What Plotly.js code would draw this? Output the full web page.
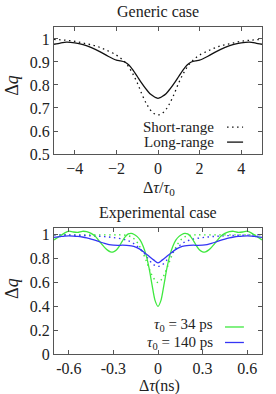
<!DOCTYPE html>
<html><head><meta charset="utf-8">
<script src="https://cdn.plot.ly/plotly-3.0.1.min.js"></script>
<style>html,body{margin:0;padding:0;background:#fff}</style>
</head><body><div id="chart" style="width:276px;height:394px"></div>
<script>
// ---- Generic case (Δτ/τ0) ----
const genShortX = [-5,-4.5,-4,-3.5,-3,-2.5,-2,-1.75,-1.5,-1.25,-1,-0.75,-0.5,-0.25,0,0.25,0.5,0.75,1,1.25,1.5,1.75,2,2.5,3,3.5,4,4.5,5];
const genShortY = [0.998,0.995,0.99,0.98,0.97,0.952,0.93,0.913,0.89,0.855,0.81,0.755,0.71,0.68,0.67,0.68,0.71,0.755,0.81,0.855,0.89,0.913,0.93,0.952,0.97,0.98,0.99,0.995,0.998];
const genLongX = [-5,-4.7,-4.4,-4,-3.6,-3.2,-2.8,-2.4,-2,-1.8,-1.6,-1.4,-1.2,-1,-0.8,-0.6,-0.4,-0.2,-0.1,0,0.1,0.2,0.4,0.6,0.8,1,1.2,1.4,1.6,1.8,2,2.4,2.8,3.2,3.6,4,4.4,4.7,5];
const genLongY = [0.977,0.982,0.986,0.983,0.975,0.962,0.945,0.925,0.908,0.905,0.9,0.887,0.865,0.838,0.81,0.785,0.763,0.75,0.745,0.742,0.745,0.75,0.763,0.785,0.81,0.838,0.865,0.887,0.9,0.905,0.908,0.925,0.945,0.962,0.975,0.983,0.986,0.982,0.977];

// ---- Experimental case (Δτ in ns) ----
const exp34X = [-0.70,-0.66,-0.63,-0.60,-0.57,-0.54,-0.51,-0.48,-0.45,-0.42,-0.40,-0.38,-0.36,-0.34,-0.32,-0.30,-0.28,-0.26,-0.24,-0.22,-0.20,-0.18,-0.16,-0.14,-0.12,-0.10,-0.08,-0.06,-0.04,-0.02,0,0.02,0.04,0.06,0.08,0.10,0.12,0.14,0.16,0.18,0.20,0.22,0.24,0.26,0.28,0.30,0.32,0.34,0.36,0.38,0.40,0.42,0.45,0.48,0.51,0.54,0.57,0.60,0.63,0.66,0.70];
const exp34Y = [0.958,0.99,1.015,1.032,1.024,1.021,1.03,1.027,1.012,0.985,0.955,0.925,0.895,0.872,0.858,0.857,0.872,0.905,0.948,0.985,1.008,1.013,1.003,0.985,0.955,0.905,0.83,0.72,0.58,0.45,0.40,0.45,0.58,0.72,0.83,0.905,0.955,0.985,1.003,1.013,1.008,0.985,0.948,0.905,0.872,0.857,0.858,0.872,0.895,0.925,0.955,0.985,1.012,1.027,1.03,1.021,1.024,1.032,1.015,0.99,0.958];
const exp34ShortX = [-0.70,-0.6,-0.5,-0.4,-0.3,-0.25,-0.21,-0.18,-0.16,-0.14,-0.12,-0.10,-0.08,-0.06,-0.04,-0.02,0,0.02,0.04,0.06,0.08,0.10,0.12,0.14,0.16,0.18,0.21,0.25,0.3,0.4,0.5,0.6,0.70];
const exp34ShortY = [1.0,1.0,1.0,1.0,1.0,1.0,0.995,0.983,0.965,0.937,0.895,0.845,0.785,0.72,0.66,0.62,0.60,0.62,0.66,0.72,0.785,0.845,0.895,0.937,0.965,0.983,0.995,1.0,1.0,1.0,1.0,1.0,1.0];
const exp140X = [-0.70,-0.66,-0.63,-0.60,-0.57,-0.54,-0.51,-0.48,-0.45,-0.42,-0.39,-0.36,-0.33,-0.30,-0.27,-0.24,-0.21,-0.18,-0.15,-0.12,-0.09,-0.06,-0.03,0,0.03,0.06,0.09,0.12,0.15,0.18,0.21,0.24,0.27,0.30,0.33,0.36,0.39,0.42,0.45,0.48,0.51,0.54,0.57,0.60,0.63,0.66,0.70];
const exp140Y = [0.978,0.985,0.99,0.991,0.99,0.987,0.982,0.975,0.965,0.953,0.94,0.928,0.918,0.913,0.912,0.913,0.912,0.907,0.897,0.878,0.85,0.82,0.79,0.765,0.79,0.82,0.85,0.878,0.897,0.907,0.912,0.913,0.912,0.913,0.918,0.928,0.94,0.953,0.965,0.975,0.982,0.987,0.99,0.991,0.99,0.985,0.978];
const exp140ShortX = [-0.70,-0.6,-0.5,-0.42,-0.36,-0.3,-0.24,-0.21,-0.18,-0.15,-0.12,-0.09,-0.06,-0.03,0,0.03,0.06,0.09,0.12,0.15,0.18,0.21,0.24,0.3,0.36,0.42,0.5,0.6,0.70];
const exp140ShortY = [1.0,0.998,0.995,0.99,0.985,0.977,0.965,0.955,0.94,0.915,0.88,0.84,0.79,0.75,0.735,0.75,0.79,0.84,0.88,0.915,0.94,0.955,0.965,0.977,0.985,0.99,0.995,0.998,1.0];

const genTicksX = [-4,-2,0,2,4];
const genTicksY = [0.5,0.6,0.7,0.8,0.9,1];
const genTickLabelsY = ["0.5","0.6","0.7","0.8","0.9","1"];
const expTicksX = [-0.6,-0.3,0,0.3,0.6];
const expTickLabelsX = ["-0.6","-0.3","0","0.3","0.6"];
const expTicksY = [0,0.2,0.4,0.6,0.8,1];
const expTickLabelsY = ["0","0.2","0.4","0.6","0.8","1"];

const GREEN = '#3fe83f', BLUE = '#3535f5', BLACK = '#111';
const FONT = 'Liberation Serif';
const DOT = '1.5px,3.5px';

const traces = [
  {x: genShortX, y: genShortY, xaxis:'x', yaxis:'y', mode:'lines', line:{color:BLACK, width:1.3, dash:DOT, shape:'spline'}},
  {x: genLongX, y: genLongY, xaxis:'x', yaxis:'y', mode:'lines', line:{color:BLACK, width:1.3, shape:'spline', smoothing:0.6}},
  {x: exp34ShortX, y: exp34ShortY, xaxis:'x2', yaxis:'y2', mode:'lines', line:{color:GREEN, width:1.4, dash:DOT, shape:'spline'}},
  {x: exp140ShortX, y: exp140ShortY, xaxis:'x2', yaxis:'y2', mode:'lines', line:{color:BLUE, width:1.4, dash:DOT, shape:'spline'}},
  {x: exp34X, y: exp34Y, xaxis:'x2', yaxis:'y2', mode:'lines', line:{color:GREEN, width:1.3, shape:'spline', smoothing:0.8}},
  {x: exp140X, y: exp140Y, xaxis:'x2', yaxis:'y2', mode:'lines', line:{color:BLUE, width:1.3, shape:'spline', smoothing:0.8}}
];

const axisCommon = {showline:true, mirror:'ticks', linecolor:'#555', linewidth:1, ticks:'inside', ticklen:4, tickcolor:'#555', showgrid:false, zeroline:false, tickfont:{family:FONT, size:16, color:'#222'}};

const layout = {
  width:276, height:394, showlegend:false,
  margin:{l:54, r:14, t:27, b:40},
  paper_bgcolor:'#fff', plot_bgcolor:'#fff',
  font:{family:FONT, color:'#222'},
  xaxis: Object.assign({}, axisCommon, {domain:[0,1], anchor:'y', range:[-5,5], tickmode:'array', tickvals:genTicksX}),
  yaxis: Object.assign({}, axisCommon, {domain:[0.6116,1], anchor:'x', range:[0.5,1.052], tickmode:'array', tickvals:genTicksY, ticktext:genTickLabelsY}),
  xaxis2: Object.assign({}, axisCommon, {domain:[0,1], anchor:'y2', range:[-0.7,0.7], tickmode:'array', tickvals:expTicksX, ticktext:expTickLabelsX}),
  yaxis2: Object.assign({}, axisCommon, {domain:[0,0.3844], anchor:'x2', range:[0,1.055], tickmode:'array', tickvals:expTicksY, ticktext:expTickLabelsY}),
  annotations: [
    {text:'Generic case', xref:'paper', yref:'paper', x:0.5, y:1.046, showarrow:false, xanchor:'center', yanchor:'middle', font:{family:FONT, size:16}},
    {text:'Experimental case', xref:'paper', yref:'paper', x:0.5, y:0.431, showarrow:false, xanchor:'center', yanchor:'middle', font:{family:FONT, size:16}},
    {text:'Δ<i>q</i>', xref:'paper', yref:'paper', x:-0.202, y:0.823, showarrow:false, textangle:-90, xanchor:'center', yanchor:'middle', font:{family:FONT, size:18}},
    {text:'Δ<i>q</i>', xref:'paper', yref:'paper', x:-0.202, y:0.202, showarrow:false, textangle:-90, xanchor:'center', yanchor:'middle', font:{family:FONT, size:18}},
    {text:'Δ<i>τ</i>/<i>τ</i><sub>0</sub>', xref:'paper', yref:'paper', x:0.505, y:0.506, showarrow:false, xanchor:'center', yanchor:'middle', font:{family:FONT, size:16}},
    {text:'Δ<i>τ</i>(ns)', xref:'paper', yref:'paper', x:0.507, y:-0.097, showarrow:false, xanchor:'center', yanchor:'middle', font:{family:FONT, size:16}},
    {text:'Short-range', xref:'paper', yref:'paper', x:0.779, y:0.694, showarrow:false, xanchor:'right', yanchor:'middle', font:{family:FONT, size:15}},
    {text:'Long-range', xref:'paper', yref:'paper', x:0.779, y:0.648, showarrow:false, xanchor:'right', yanchor:'middle', font:{family:FONT, size:15}},
    {text:'<i>τ</i><sub>0</sub> = 34 ps', xref:'paper', yref:'paper', x:0.774, y:0.0876, showarrow:false, xanchor:'right', yanchor:'middle', font:{family:FONT, size:15}},
    {text:'<i>τ</i><sub>0</sub> = 140 ps', xref:'paper', yref:'paper', x:0.774, y:0.0342, showarrow:false, xanchor:'right', yanchor:'middle', font:{family:FONT, size:15}}
  ],
  shapes: [
    {type:'line', xref:'paper', yref:'paper', x0:0.832, x1:0.909, y0:0.694, y1:0.694, line:{color:BLACK, width:1.3, dash:DOT}},
    {type:'line', xref:'paper', yref:'paper', x0:0.832, x1:0.909, y0:0.648, y1:0.648, line:{color:BLACK, width:1.3}},
    {type:'line', xref:'paper', yref:'paper', x0:0.822, x1:0.913, y0:0.0826, y1:0.0826, line:{color:GREEN, width:1.3}},
    {type:'line', xref:'paper', yref:'paper', x0:0.822, x1:0.913, y0:0.0352, y1:0.0352, line:{color:BLUE, width:1.3}}
  ]
};

Plotly.newPlot('chart', traces, layout, {displayModeBar:false, staticPlot:true});
</script></body></html>
